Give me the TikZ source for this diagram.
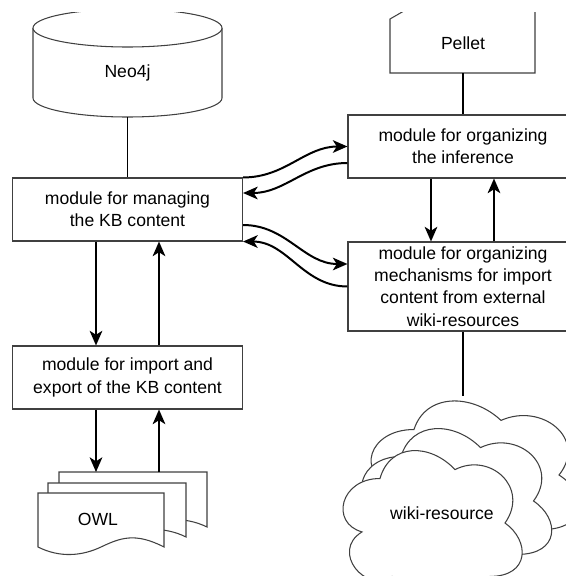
\documentclass[tikz,border=0pt]{standalone}
\usepackage{fontspec}
\setmainfont{Liberation Sans}
\usetikzlibrary{arrows.meta}

\begin{document}
\begin{tikzpicture}[
			x=0.03cm, y=-0.03cm,
			font=\fontsize{15pt}{19pt}\selectfont,
			module/.style={rectangle, draw=black!75, line width=0.9pt, fill=white, align=center, minimum width=6.9cm, minimum height=1.89cm, inner sep=0pt},
			store/.style={rectangle, align=center, inner sep=0pt},
			sheet/.style={draw=black!75, line width=0.9pt, fill=white},
			link/.style={line width=1.3pt},
			flow/.style={line width=1.7pt, -{Stealth[length=4.4mm, width=3.8mm, inset=1.2mm]}},
			]
			\useasboundingbox (0,0) rectangle (566,576);
			\clip (0,12) rectangle (566,576);
			%Shapes
				% Neo4j storage
				\draw[sheet] (33,28) arc[start angle=180, end angle=0, x radius=2.835cm, y radius=0.57cm] -- (222,98) arc[start angle=0, end angle=-180, x radius=2.835cm, y radius=0.57cm] -- cycle;
				\draw[sheet] (33,28) arc[start angle=180, end angle=360, x radius=2.835cm, y radius=0.57cm];
				% Pellet
				\draw[sheet] (416,4) -- (390,19) -- (390,73) -- (535,73) -- (535,4);
				% OWL documents
				\draw[sheet] (59,472) -- (207,472) -- (207,527) .. controls (185,516) and (158,518) .. (133,527) .. controls (110,536) and (82,538) .. (59,527) -- cycle;
				\draw[sheet] (48,483) -- (186,483) -- (186,537) .. controls (164,526) and (140,528) .. (117,537) .. controls (95,546) and (70,548) .. (48,537) -- cycle;
				\draw[sheet] (38,493) -- (164,493) -- (164,547) .. controls (135,532) and (120,538) .. (101,547) .. controls (82,556) and (60,558) .. (38,547) -- cycle;
				% wiki clouds
				\foreach \cx/\cy/\cw/\ch in {356/384/6.96cm/5.46cm, 348/412/6.36cm/5.34cm, 330/434/6cm/5.34cm}
					\draw[sheet, shift={(\cx,\cy)}, x=\cw, y=-\ch] (0.25,0.25) .. controls (0.05,0.25) and (0,0.5) .. (0.16,0.55) .. controls (0,0.66) and (0.18,0.9) .. (0.31,0.8) .. controls (0.4,1) and (0.7,1) .. (0.8,0.8) .. controls (1,0.8) and (1,0.6) .. (0.875,0.5) .. controls (1,0.3) and (0.8,0.1) .. (0.625,0.2) .. controls (0.5,0.05) and (0.3,0.05) .. (0.25,0.25) -- cycle;

			%Nodes
				% modules
				\node[module]	(kbmod)		at (127.5,209.5)	{module for managing\\the KB content};
				\node[module]	(impmod)	at (127.5,377.5)	{module for import and\\export of the KB content};
				\node[module]	(infmod)	at (463,146.5)		{module for organizing\\the inference};
				\node[module, minimum height=2.67cm]	(wikimod)	at (463,286.5)	{module for organizing\\mechanisms for import\\content from external\\wiki-resources};
				% stores
				\node[store, minimum width=5.67cm, minimum height=2.67cm]	(neo)		at (127.5,72.5)		{Neo4j};
				\node[store, minimum width=4.35cm, minimum height=1.8cm]	(pellet)	at (463,43)			{Pellet};
				\node[store]	(owl)		at (98,519)			{OWL};
				\node[store]	(wiki)		at (442,513)		{wiki-resource};
				% ghost points on the stacked shapes
				\coordinate	(owlstack)	at (133,472);
				\coordinate	(wikitop)	at (463,396);

			%Lines
				% plain links
				\draw[link] (neo.south) -- (kbmod.north);
				\draw[link] (pellet.south) -- (infmod.north);
				\draw[link] (wikimod.south) -- (wikitop);
				% left column arrows
				\draw[flow] ([xshift=-0.945cm]kbmod.south) -- ([xshift=-0.945cm]impmod.north);
				\draw[flow] ([xshift=0.945cm]impmod.north) -- ([xshift=0.945cm]kbmod.south);
				\draw[flow] ([xshift=-0.945cm]impmod.south) -- ([xshift=-0.945cm]impmod.south |- owlstack);
				\draw[flow] ([xshift=0.945cm]impmod.south |- owlstack) -- ([xshift=0.945cm]impmod.south);
				% right column arrows
				\draw[flow] ([xshift=-0.96cm]infmod.south) -- ([xshift=-0.96cm]wikimod.north);
				\draw[flow] ([xshift=0.93cm]wikimod.north) -- ([xshift=0.93cm]infmod.south);
				% curved arrows
				\draw[flow] (kbmod.north east) to[out=0, in=180] (infmod.west);
				\draw[flow] ([yshift=-0.495cm]infmod.west) to[out=180, in=0] ([yshift=0.495cm]kbmod.east);
				\draw[flow] ([yshift=-0.465cm]kbmod.east) to[out=0, in=180] ([yshift=0.675cm]wikimod.west);
				\draw[flow] (wikimod.west) to[out=180, in=0] (kbmod.south east);
\end{tikzpicture}
\end{document}
